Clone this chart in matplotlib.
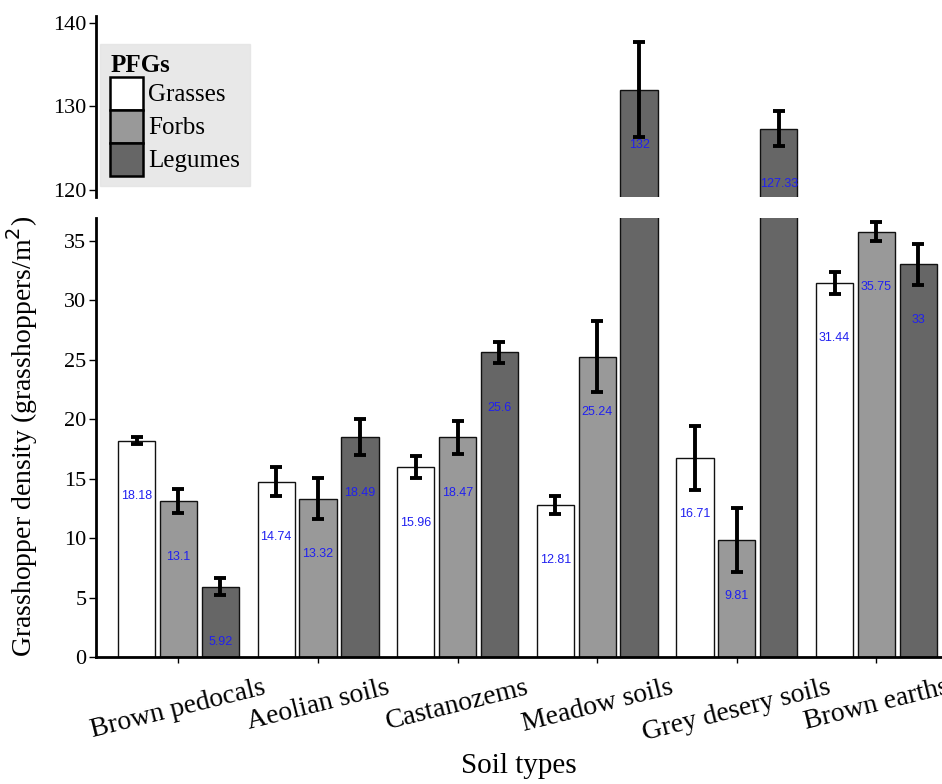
import numpy as np
import matplotlib
matplotlib.use('Agg')
from matplotlib import pyplot as plt
from matplotlib.patches import Patch

SOILS = ["Brown pedocals", "Aeolian soils", "Castanozems", "Meadow soils",
         "Grey desery soils", "Brown earths"]
GROUPS = ["Grasses", "Forbs", "Legumes"]
grasses = [18.18, 14.74, 15.96, 12.81, 16.71, 31.44]
forbs = [13.1, 13.32, 18.47, 25.24, 9.81, 35.75]
legumes = [5.92, 18.49, 25.6, 132, 127.33, 33]
grasses_err = [0.3, 1.2, 0.95, 0.75, 2.7, 0.95]
forbs_err = [1.0, 1.75, 1.4, 3.0, 2.7, 0.8]
legumes_err = [0.7, 1.5, 0.9, 5.7, 2.05, 1.7]
COLORS = ["#ffffff", "#999999", "#666666"]

plt.rcParams['font.family'] = ['Liberation Serif', 'DejaVu Serif']

fig = plt.figure(figsize=(9.42, 7.84), dpi=100)
ax_lo = fig.add_axes([0.102, 0.162, 0.898, 0.56])
ax_hi = fig.add_axes([0.102, 0.749, 0.898, 0.231])

x = np.arange(len(SOILS))
width = 0.267
step = 0.3
series = [(grasses, grasses_err), (forbs, forbs_err), (legumes, legumes_err)]

for ax in (ax_lo, ax_hi):
    for i, (vals, errs) in enumerate(series):
        pos = x + (i - 1) * step
        ax.bar(pos, vals, width, color=COLORS[i], edgecolor='#111111', linewidth=1.0,
               yerr=errs, error_kw=dict(ecolor='black', elinewidth=2.8, capsize=4, capthick=2.8))
    ax.set_xlim(-0.59, 5.47)
    ax.spines['right'].set_visible(False)
    ax.spines['top'].set_visible(False)
    ax.spines['left'].set_linewidth(2)
    ax.tick_params(axis='y', labelsize=16, length=5, width=1, pad=2)

# value labels
for i, (vals, errs) in enumerate(series):
    for j, v in enumerate(vals):
        ax = ax_hi if v > 100 else ax_lo
        ax.annotate(str(v), (x[j] + (i - 1) * step, v), xytext=(0, -40),
                    textcoords='offset points', ha='center', va='center',
                    fontsize=9, color='#2020f0', family='Liberation Sans')

ax_lo.set_ylim(0, 36.9)
ax_lo.set_yticks([0, 5, 10, 15, 20, 25, 30, 35])
ax_lo.spines['bottom'].set_linewidth(2)
ax_lo.set_xticks(x)
ax_lo.set_xticklabels(SOILS, rotation=14, ha='center', fontsize=20)
ax_lo.tick_params(axis='x', length=4, width=1, pad=9)
ax_lo.set_xlabel("Soil types", fontsize=21, labelpad=5)

ax_hi.set_ylim(119.15, 140.85)
ax_hi.set_yticks([120, 130, 140])
ax_hi.spines['bottom'].set_visible(False)
ax_hi.set_xticks([])

handles = [Patch(facecolor=c, edgecolor='black', linewidth=1.8) for c in COLORS]
leg = ax_hi.legend(handles, GROUPS, title="PFGs", loc='upper left',
                   bbox_to_anchor=(0.005, 0.845), borderaxespad=0, fontsize=18,
                   title_fontsize=18, frameon=True, fancybox=False,
                   handlelength=1.3, handleheight=1.65, handletextpad=0.2,
                   labelspacing=0.0, borderpad=0.4)
leg.get_frame().set_facecolor('#e3e3e3')
leg.get_frame().set_edgecolor('#e3e3e3')
leg.get_title().set_fontweight('bold')
leg._legend_box.align = 'left'

fig.text(0.023, 0.443, "Grasshopper density (grasshoppers/m$^2$)", rotation=90,
         ha='center', va='center', fontsize=20)

fig.savefig('out.png', dpi=100)
